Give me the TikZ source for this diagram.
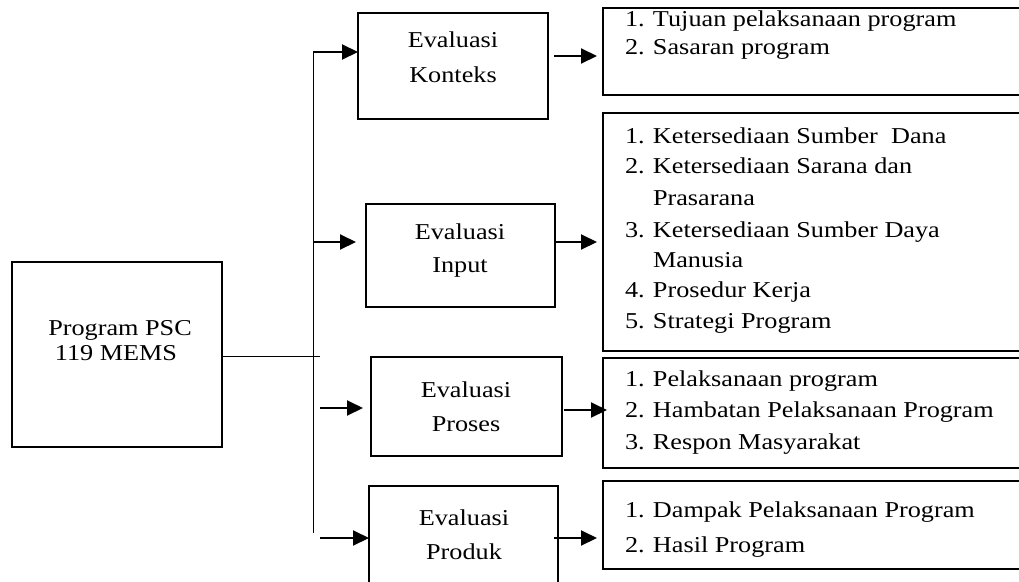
\documentclass[tikz,border=0pt]{standalone}
\usepackage{fontspec}
\setmainfont[FakeStretch=1.155]{Liberation Serif}
\usetikzlibrary{arrows.meta}
\newcommand\lnum[2]{\makebox[28pt][l]{#1}#2}
\begin{document}
\begin{tikzpicture}[x=1pt,y=-1pt,
  box/.style={draw,line width=1.8pt,inner sep=0pt,outer sep=0pt},
  lbox/.style={draw,line width=2pt,inner sep=0pt,outer sep=0pt,minimum width=427pt},
  txt/.style={inner sep=0pt,outer sep=0pt,font=\fontsize{22.7}{28}\selectfont},
  arr/.style={line width=2pt,-{Triangle[length=16pt,width=15pt]}},
  thinline/.style={line width=1pt}]
\useasboundingbox (0,0) rectangle (1019,581);
% boxes
\node[box,minimum width=210pt,minimum height=185pt] (prog) at (117,354.5) {};
\node[box,minimum width=190pt,minimum height=106pt] (konteks) at (453,66) {};
\node[box,minimum width=189pt,minimum height=103pt] (input) at (460.5,255.5) {};
\node[box,minimum width=191pt,minimum height=99pt] (proses) at (466.5,406.5) {};
\node[box,minimum width=189pt,minimum height=114pt] (produk) at (463.5,543) {};
\node[lbox,minimum height=87pt] (l1) at (816.5,51.5) {};
\node[lbox,minimum height=238pt] (l2) at (816.5,232) {};
\node[lbox,minimum height=110pt] (l3) at (816.5,413) {};
\node[lbox,minimum height=88pt] (l4) at (816.5,525) {};
% texts in the left boxes
\node[txt,anchor=base] (progt1) at (120,335) {Program PSC};
\node[txt,anchor=base] (progt2) at (116,360) {119 MEMS};
\node[txt,anchor=base] (kont1) at (453,47) {Evaluasi};
\node[txt,anchor=base] (kont2) at (453,82) {Konteks};
\node[txt,anchor=base] (inpt1) at (460,239) {Evaluasi};
\node[txt,anchor=base] (inpt2) at (460,272) {Input};
\node[txt,anchor=base] (prot1) at (466,397) {Evaluasi};
\node[txt,anchor=base] (prot2) at (466,431) {Proses};
\node[txt,anchor=base] (prdt1) at (464,525) {Evaluasi};
\node[txt,anchor=base] (prdt2) at (464,559) {Produk};
% list texts
\node[txt,anchor=base west] (l1a) at (625,26) {\lnum{1.}{Tujuan pelaksanaan program}};
\node[txt,anchor=base west] (l1b) at (625,54) {\lnum{2.}{Sasaran program}};
\node[txt,anchor=base west] (l2a) at (625,143) {\lnum{1.}{Ketersediaan Sumber~ Dana}};
\node[txt,anchor=base west] (l2b) at (625,173) {\lnum{2.}{Ketersediaan Sarana dan}};
\node[txt,anchor=base west] (l2c) at (625,205) {\lnum{}{Prasarana}};
\node[txt,anchor=base west] (l2d) at (625,237) {\lnum{3.}{Ketersediaan Sumber Daya}};
\node[txt,anchor=base west] (l2e) at (625,267) {\lnum{}{Manusia}};
\node[txt,anchor=base west] (l2f) at (625,297) {\lnum{4.}{Prosedur Kerja}};
\node[txt,anchor=base west] (l2g) at (625,328) {\lnum{5.}{Strategi Program}};
\node[txt,anchor=base west] (l3a) at (625,386) {\lnum{1.}{Pelaksanaan program}};
\node[txt,anchor=base west] (l3b) at (625,417) {\lnum{2.}{Hambatan Pelaksanaan Program}};
\node[txt,anchor=base west] (l3c) at (625,449) {\lnum{3.}{Respon Masyarakat}};
\node[txt,anchor=base west] (l4a) at (625,517) {\lnum{1.}{Dampak Pelaksanaan Program}};
\node[txt,anchor=base west] (l4b) at (625,552) {\lnum{2.}{Hasil Program}};
% trunk
\coordinate (ttop) at (313,51);
\coordinate (tbot) at (313,533);
\draw[thinline] (ttop) -- (tbot);
\coordinate (pj) at (320,356);
\draw[thinline] (prog.east |- pj) -- (pj);
% arrows into evaluation boxes
\coordinate (a1) at (313,52);
\coordinate (a2) at (313,242);
\coordinate (a3) at (320,408);
\coordinate (a4) at (320,538);
\draw[arr] (a1) -- (a1 -| konteks.west);
\draw[arr,shorten >=10pt] (a2) -- (a2 -| input.west);
\draw[arr,shorten >=8pt] (a3) -- (a3 -| proses.west);
\draw[arr] (a4) -- (a4 -| produk.west);
% arrows into lists
\coordinate (b1) at (0,56);
\coordinate (b2) at (0,242);
\coordinate (b3) at (0,410);
\coordinate (b4) at (0,538);
\draw[arr,shorten <=6pt,shorten >=6pt] (konteks.east |- b1) -- (l1.west |- b1);
\draw[arr,shorten >=6pt] (input.east |- b2) -- (l2.west |- b2);
\draw[arr,shorten <=2pt,shorten >=-4pt] (proses.east |- b3) -- (l3.west |- b3);
\draw[arr,shorten <=-4pt,shorten >=6pt] (produk.east |- b4) -- (l4.west |- b4);
\end{tikzpicture}
\end{document}
